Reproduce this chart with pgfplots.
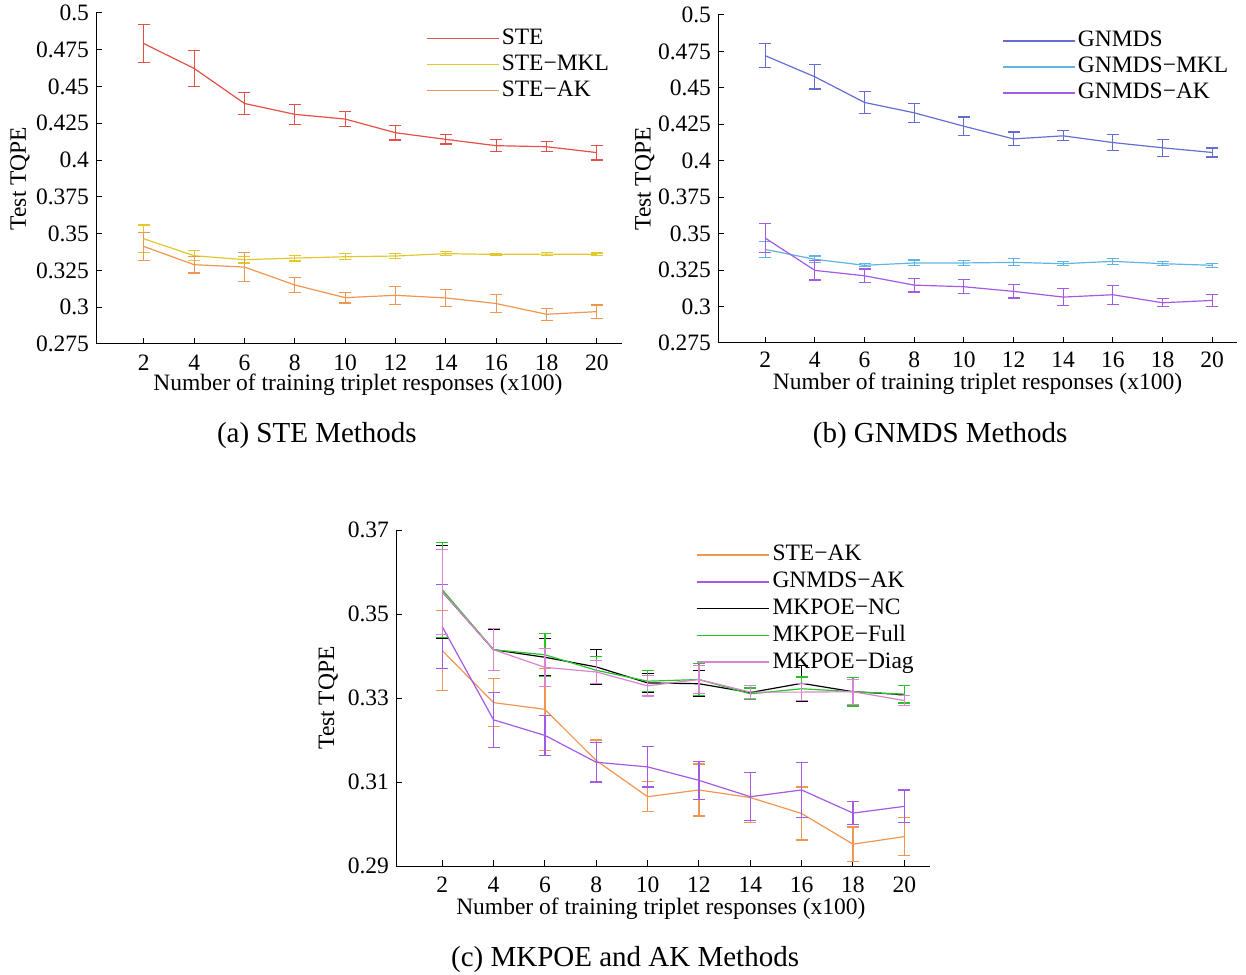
\documentclass[border=0pt]{standalone}
\usepackage{fontspec}
\setmainfont{Liberation Serif}
\usepackage{pgfplots}
\pgfplotsset{compat=1.18}
\usepackage{pgfplotstable}

\definecolor{cSTE}{RGB}{228,80,70}
\definecolor{cSTEMKL}{RGB}{226,200,45}
\definecolor{cSTEAK}{RGB}{240,150,80}
\definecolor{cGN}{RGB}{100,110,210}
\definecolor{cGNMKL}{RGB}{95,180,225}
\definecolor{cGNAK}{RGB}{165,90,230}
\definecolor{cFull}{RGB}{40,195,40}
\definecolor{cDiag}{RGB}{220,130,210}

\pgfplotstableread{
x y e
2 0.4792 0.0128
4 0.4623 0.0122
6 0.4385 0.0077
8 0.4311 0.0069
10 0.4279 0.0051
12 0.4186 0.0050
14 0.4141 0.0032
16 0.4098 0.0042
18 0.4091 0.0035
20 0.4051 0.0050
}\tSTE
\pgfplotstableread{
x y e
2 0.3465 0.0094
4 0.3350 0.0034
6 0.3323 0.0023
8 0.3334 0.0020
10 0.3343 0.0020
12 0.3348 0.0016
14 0.3364 0.0015
16 0.3359 0.0008
18 0.3361 0.0012
20 0.3359 0.0010
}\tSTEMKL
\pgfplotstableread{
x y e
2 0.3413 0.0095
4 0.3289 0.0057
6 0.3273 0.0098
8 0.3151 0.0049
10 0.3065 0.0036
12 0.3081 0.0062
14 0.3063 0.0059
16 0.3025 0.0063
18 0.2952 0.0041
20 0.2970 0.0045
}\tSTEAK
\pgfplotstableread{
x y e
2 0.4721 0.0081
4 0.4576 0.0084
6 0.4400 0.0076
8 0.4329 0.0065
10 0.4237 0.0063
12 0.4150 0.0047
14 0.4171 0.0034
16 0.4125 0.0054
18 0.4089 0.0057
20 0.4057 0.0031
}\tGN
\pgfplotstableread{
x y e
2 0.3392 0.0053
4 0.3324 0.0023
6 0.3283 0.0010
8 0.3299 0.0020
10 0.3299 0.0017
12 0.3303 0.0024
14 0.3294 0.0015
16 0.3310 0.0020
18 0.3294 0.0015
20 0.3283 0.0015
}\tGNMKL
\pgfplotstableread{
x y e
2 0.3470 0.0100
4 0.3248 0.0066
6 0.3211 0.0047
8 0.3147 0.0047
10 0.3136 0.0048
12 0.3104 0.0045
14 0.3065 0.0057
16 0.3081 0.0066
18 0.3026 0.0027
20 0.3042 0.0039
}\tGNAK
\pgfplotstableread{
x y e
2 0.3553 0.0110
4 0.3415 0.0049
6 0.3397 0.0044
8 0.3374 0.0041
10 0.3336 0.0022
12 0.3334 0.0031
14 0.3313 0.0016
16 0.3335 0.0042
18 0.3315 0.0034
20 0.3308 0.0022
}\tNC
\pgfplotstableread{
x y e
2 0.3558 0.0113
4 0.3415 0.0050
6 0.3403 0.0051
8 0.3366 0.0032
10 0.3340 0.0025
12 0.3344 0.0038
14 0.3310 0.0014
16 0.3322 0.0028
18 0.3315 0.0034
20 0.3309 0.0021
}\tFull
\pgfplotstableread{
x y e
2 0.3553 0.0101
4 0.3415 0.0050
6 0.3373 0.0045
8 0.3362 0.0027
10 0.3329 0.0024
12 0.3344 0.0034
14 0.3314 0.0015
16 0.3314 0.0020
18 0.3315 0.0030
20 0.3294 0.0012
}\tDiag

\newcommand{\lblfont}{\fontsize{11.75}{14}\selectfont}
\newcommand{\capfont}{\fontsize{14.5}{17}\selectfont}

\pgfplotsset{
  panel/.style={
    scale only axis,
    clip=false,
    anchor=south west,
    axis x line*=bottom,
    axis y line*=left,
    axis line style={-, line width=0.5pt},
    tick align=inside,
    major tick length=3pt,
    tick style={line width=0.5pt, black},
    xtick={2,4,...,20},
    xmin=0.1, xmax=21,
    tick label style={font=\lblfont},
    xticklabel style={yshift=-2pt},
    label style={font=\lblfont},
    /pgf/number format/assume math mode=true,
    yticklabel style={/pgf/number format/fixed, /pgf/number format/precision=3},
    xlabel={Number of training triplet responses (x100)},
    ylabel={Test TQPE},
    legend cell align=left,
    legend image code/.code={\draw[##1] (0pt,0pt) -- (36pt,0pt);},
    legend style={draw=none, fill=none, inner sep=0pt, row sep=0pt, font=\lblfont,
      anchor=north west, nodes={text height=8.5pt, text depth=2.5pt, inner sep=1pt}},
  },
  eb/.style={/pgfplots/error bars/y dir=both, /pgfplots/error bars/y explicit,
    /pgfplots/error bars/error mark=-,
    /pgfplots/error bars/error mark options={rotate=90, mark size=3pt, line width=0.6pt},
    /pgfplots/error bars/error bar style={line width=0.6pt}},
}
\newcommand{\leg}[2]{\addlegendimage{line width=0.8pt, draw=#1, color=#1}\addlegendentry{#2}}

\begin{document}
\begin{tikzpicture}
\useasboundingbox (0,0) rectangle (623pt,487pt);

% Panel (a)
\begin{axis}[panel, at={(48pt,315pt)}, width=263pt, height=165.5pt,
  ymin=0.275, ymax=0.5, ytick={0.275,0.3,...,0.501},
  xlabel style={at={(axis description cs:0.498,-0.124)}, anchor=center},
  ylabel style={at={(axis description cs:-0.1445,0.5)}, anchor=center},
  legend style={at={(axis description cs:0.627,0.964)}}]
\leg{cSTE}{STE}
\leg{cSTEMKL}{STE−MKL}
\leg{cSTEAK}{STE−AK}
\addplot[forget plot, color=cSTE, line width=0.6pt, eb] table[x=x,y=y,y error=e] {\tSTE};
\addplot[forget plot, color=cSTEMKL, line width=0.6pt, eb] table[x=x,y=y,y error=e] {\tSTEMKL};
\addplot[forget plot, color=cSTEAK, line width=0.6pt, eb] table[x=x,y=y,y error=e] {\tSTEAK};
\node[font=\capfont] at (axis description cs:0.42,-0.278) {(a) STE Methods};
\end{axis}

% Panel (b)
\begin{axis}[panel, at={(359pt,315.5pt)}, width=259.5pt, height=164pt,
  ymin=0.275, ymax=0.5, ytick={0.275,0.3,...,0.501},
  xticklabel style={yshift=1pt},
  xlabel style={at={(axis description cs:0.5,-0.125)}, anchor=center},
  ylabel style={at={(axis description cs:-0.141,0.5)}, anchor=center},
  legend style={at={(axis description cs:0.547,0.962)}}]
\leg{cGN}{GNMDS}
\leg{cGNMKL}{GNMDS−MKL}
\leg{cGNAK}{GNMDS−AK}
\addplot[forget plot, color=cGN, line width=0.6pt, eb] table[x=x,y=y,y error=e] {\tGN};
\addplot[forget plot, color=cGNMKL, line width=0.6pt, eb] table[x=x,y=y,y error=e] {\tGNMKL};
\addplot[forget plot, color=cGNAK, line width=0.6pt, eb] table[x=x,y=y,y error=e] {\tGNAK};
\node[font=\capfont] at (axis description cs:0.428,-0.283) {(b) GNMDS Methods};
\end{axis}

% Panel (c)
\begin{axis}[panel, at={(198pt,54pt)}, width=267pt, height=168pt,
  xmin=0.2,
  ymin=0.29, ymax=0.37, ytick={0.29,0.31,0.33,0.35,0.37},
  yticklabel style={/pgf/number format/fixed, /pgf/number format/precision=2},
  xlabel style={at={(axis description cs:0.496,-0.128)}, anchor=center},
  ylabel style={at={(axis description cs:-0.127,0.5)}, anchor=center},
  legend style={at={(axis description cs:0.562,0.967)}, nodes={inner sep=1.2pt}}]
\leg{cSTEAK}{STE−AK}
\leg{cGNAK}{GNMDS−AK}
\leg{black}{MKPOE−NC}
\leg{cFull}{MKPOE−Full}
\leg{cDiag}{MKPOE−Diag}
\addplot[forget plot, color=cSTEAK, line width=0.6pt, eb] table[x=x,y=y,y error=e] {\tSTEAK};
\addplot[forget plot, color=cGNAK, line width=0.6pt, eb] table[x=x,y=y,y error=e] {\tGNAK};
\addplot[forget plot, color=black, line width=0.6pt, eb] table[x=x,y=y,y error=e] {\tNC};
\addplot[forget plot, color=cFull, line width=0.6pt, eb] table[x=x,y=y,y error=e] {\tFull};
\addplot[forget plot, color=cDiag, line width=0.6pt, eb] table[x=x,y=y,y error=e] {\tDiag};
\node[font=\capfont] at (axis description cs:0.429,-0.277) {(c) MKPOE and AK Methods};
\end{axis}
\end{tikzpicture}
\end{document}
